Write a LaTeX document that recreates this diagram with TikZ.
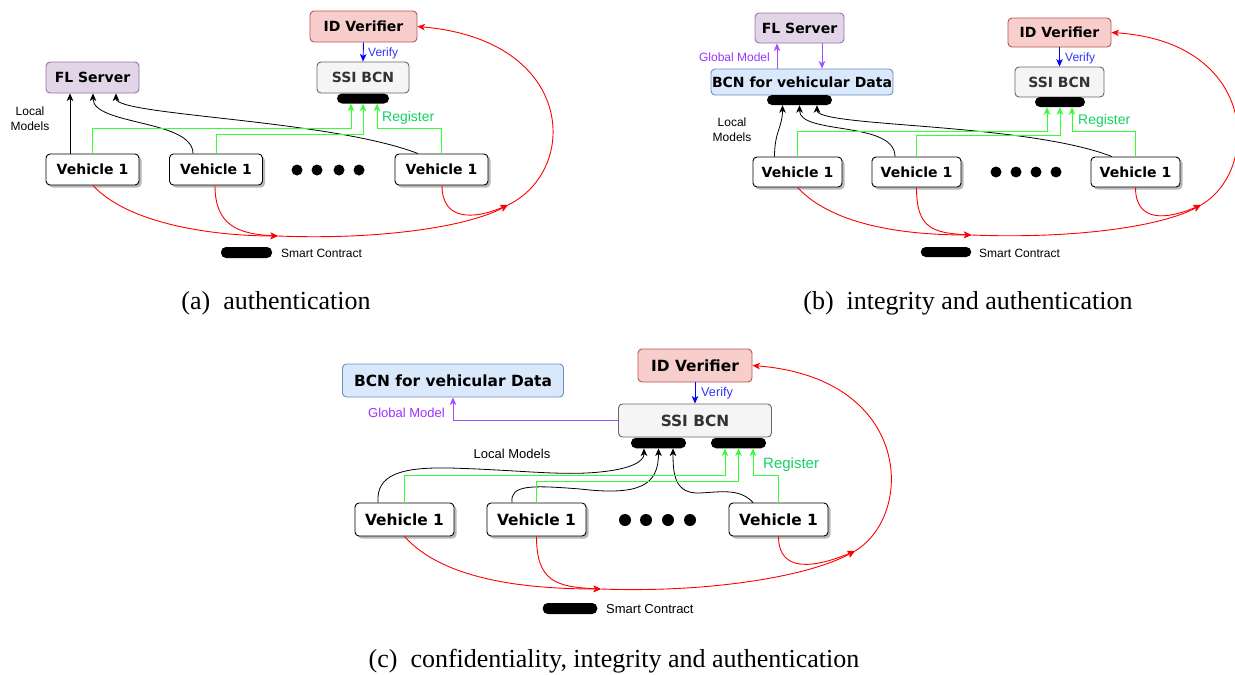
\documentclass[tikz,border=0pt]{standalone}
\usepackage{fontspec}
\setmainfont{Liberation Serif}
\newfontfamily\nodefont{DejaVu Sans}
\newfontfamily\lblfont{Liberation Sans}
\usetikzlibrary{arrows.meta,shadows}
\definecolor{idfill}{HTML}{F8CECC}
\definecolor{idline}{HTML}{B85450}
\definecolor{ssifill}{HTML}{F5F5F5}
\definecolor{ssiline}{HTML}{666666}
\definecolor{ssitext}{HTML}{333333}
\definecolor{flfill}{HTML}{E1D5E7}
\definecolor{flline}{HTML}{9673A6}
\definecolor{bcnfill}{HTML}{DAE8FC}
\definecolor{bcnline}{HTML}{6C8EBF}
\definecolor{grline}{HTML}{33FF33}
\definecolor{grtext}{HTML}{14D264}
\definecolor{puline}{HTML}{A050FF}
\definecolor{putext}{HTML}{9933FF}
\definecolor{bltext}{HTML}{3333FF}
\begin{document}
\begin{tikzpicture}[x=1pt,y=-1pt,
  box/.style={rounded corners=4pt, line width=0.9pt, inner sep=0pt, font={\nodefont\bfseries\fontsize{14}{16}\selectfont}},
  bigtxt/.style={font={\nodefont\bfseries\fontsize{15.4}{17}\selectfont}},
  idbox/.style={box, fill=idfill, draw=idline},
  ssibox/.style={box, fill=ssifill, draw=ssiline, text=ssitext},
  flbox/.style={box, fill=flfill, draw=flline},
  bcnbox/.style={box, fill=bcnfill, draw=bcnline},
  vehbox/.style={box, fill=white, draw=black, drop shadow={shadow xshift=2.5pt, shadow yshift=-2.5pt, fill=black, opacity=0.28}},
  scbar/.style={fill=black, rounded corners=5pt, inner sep=0pt},
  bigdot/.style={circle, fill=black, inner sep=0pt, minimum size=11pt},
  lbl/.style={inner sep=0pt, font={\lblfont\fontsize{12}{15}\selectfont}},
  captxt/.style={inner sep=0pt, font={\fontsize{26}{30}\selectfont}},
  tip/.style={-{Stealth[length=7.5pt,width=6.5pt,inset=2pt]}},
  blk/.style={draw=black, line width=0.8pt, tip},
  grn/.style={draw=grline, line width=1pt, tip},
  rd/.style={draw=red, line width=0.9pt, tip},
  blu/.style={draw=blue, line width=0.9pt, tip},
  pur/.style={draw=puline, line width=1pt, tip}
]
\useasboundingbox (0,0) rectangle (1235,675);

% ================= (a) =================
\node[idbox, minimum width=107, minimum height=31] (a-id) at (363.5,26.5) {ID Verifier};
\node[ssibox, minimum width=92, minimum height=31] (a-ssi) at (363,77.5) {SSI BCN};
\node[scbar, minimum width=52, minimum height=10] (a-bar) at (363,98.5) {};
\node[flbox, minimum width=93, minimum height=31] (a-fl) at (92.5,77.5) {FL Server};
\node[vehbox, minimum width=93, minimum height=31] (a-v1) at (92.5,169.5) {Vehicle 1};
\node[vehbox, minimum width=93, minimum height=31] (a-v2) at (216,169.5) {Vehicle 1};
\node[vehbox, minimum width=93, minimum height=31] (a-v3) at (441.5,169.5) {Vehicle 1};
\node[bigdot] (a-d1) at (297,170) {};
\node[bigdot] (a-d2) at (317,170) {};
\node[bigdot] (a-d3) at (339,170) {};
\node[bigdot] (a-d4) at (359,170) {};
\node[lbl, align=center] (a-lm) at (30,119) {Local\\Models};
\node[lbl, anchor=west, text=bltext] (a-ver) at (368,53) {Verify};
\node[lbl, anchor=west, text=grtext, font={\lblfont\fontsize{14}{16}\selectfont}] (a-reg) at (382,118) {Register};
\node[scbar, minimum width=51, minimum height=11] (a-sc) at (246.5,252.5) {};
\node[lbl, anchor=west] (a-sct) at (281,253) {Smart Contract};
\coordinate (a-m1) at (278,236);
\coordinate (a-m2) at (508,205);

\draw[blk] ([xshift=-22.5pt]a-v1.north) -- ([xshift=-22.5pt]a-fl.south);
\draw[blk] ([xshift=-23pt]a-v2.north) .. controls +(0,-34) and +(0,32) .. ([xshift=0.5pt]a-fl.south);
\draw[blk] ([xshift=-23.5pt]a-v3.north) .. controls +(-88,-34) and +(0,22) .. ([xshift=23.5pt]a-fl.south);
\draw[grn] (a-v1.north) -- ++(0,-25) -| ([xshift=-12pt]a-bar.south);
\draw[grn] (a-v2.north) -- ++(0,-19) -| (a-bar.south);
\draw[grn] (a-v3.north) -- ++(0,-25) -| ([xshift=14pt]a-bar.south);
\draw[blu] (a-id.south) -- (a-ssi.north);
\draw[rd] ([xshift=0.5pt]a-v1.south) .. controls +(37,40) and +(-60,0) .. (a-m1);
\draw[rd] ([xshift=-1pt]a-v2.south) .. controls +(0,40) and +(-40,-2) .. (a-m1);
\draw[rd] (a-m1) .. controls +(100,4) and +(-40,22) .. (a-m2);
\draw[rd] ([xshift=0.5pt]a-v3.south) .. controls +(0,35) and +(-35,15) .. (a-m2);
\draw[rd] (a-m2) .. controls +(72,-35) and +(158,13.5) .. (a-id.east);
\node[captxt] (a-cap) at (276,303) {(a)\hspace{0.5em}authentication};

% ================= (b) =================
\node[flbox, minimum width=89, minimum height=30] (b-fl) at (799.5,28) {FL Server};
\node[bcnbox, minimum width=182, minimum height=26] (b-bcn) at (802,82) {BCN for vehicular Data};
\node[scbar, minimum width=65, minimum height=10] (b-bar1) at (799.5,100) {};
\node[idbox, minimum width=103, minimum height=29] (b-id) at (1059.5,32.5) {ID Verifier};
\node[ssibox, minimum width=89, minimum height=30] (b-ssi) at (1059.5,82) {SSI BCN};
\node[scbar, minimum width=50, minimum height=10] (b-bar2) at (1060,102) {};
\node[vehbox, minimum width=89, minimum height=30] (b-v1) at (797.5,172) {Vehicle 1};
\node[vehbox, minimum width=89, minimum height=30] (b-v2) at (916.5,172) {Vehicle 1};
\node[vehbox, minimum width=89, minimum height=30] (b-v3) at (1135.5,172) {Vehicle 1};
\node[bigdot] (b-d1) at (996,172) {};
\node[bigdot] (b-d2) at (1016,172) {};
\node[bigdot] (b-d3) at (1036,172) {};
\node[bigdot] (b-d4) at (1056,172) {};
\node[lbl, align=center] (b-lm) at (732,130) {Local\\Models};
\node[lbl, anchor=east, text=putext] (b-gm) at (770,57) {Global Model};
\node[lbl, anchor=west, text=bltext] (b-ver) at (1065,58) {Verify};
\node[lbl, anchor=west, text=grtext, font={\lblfont\fontsize{14}{16}\selectfont}] (b-reg) at (1078,121) {Register};
\node[scbar, minimum width=50.5, minimum height=10] (b-sc) at (946,252) {};
\node[lbl, anchor=west] (b-sct) at (979,253) {Smart Contract};
\coordinate (b-m1) at (971.5,235);
\coordinate (b-m2) at (1201,205);

\draw[pur] ([xshift=-25pt]b-bcn.north) -- ([xshift=-22.5pt]b-fl.south);
\draw[pur] ([xshift=22.5pt]b-fl.south) -- ([xshift=20pt]b-bcn.north);
\draw[blk] ([xshift=-23pt]b-v1.north) .. controls +(0,-25) and +(0,22) .. ([xshift=-17pt]b-bar1.south);
\draw[blk] ([xshift=-21.5pt]b-v2.north) .. controls +(0,-36) and +(0,30) .. (b-bar1.south);
\draw[blk] ([xshift=-23.5pt]b-v3.north) .. controls +(-88,-34) and +(0,22) .. ([xshift=17.5pt]b-bar1.south);
\draw[grn] (b-v1.north) -- ++(0,-25) -| ([xshift=-13pt]b-bar2.south);
\draw[grn] (b-v2.north) -- ++(0,-21) -| (b-bar2.south);
\draw[grn] (b-v3.north) -- ++(0,-25) -| ([xshift=12pt]b-bar2.south);
\draw[blu] (b-id.south) -- (b-ssi.north);
\draw[rd] (b-v1.south) .. controls +(37,40) and +(-60,0) .. (b-m1);
\draw[rd] (b-v2.south) .. controls +(0,40) and +(-40,-2) .. (b-m1);
\draw[rd] (b-m1) .. controls +(100,4) and +(-40,22) .. (b-m2);
\draw[rd] (b-v3.south) .. controls +(0,35) and +(-35,15) .. (b-m2);
\draw[rd] (b-m2) .. controls +(60,-35) and +(146,9.5) .. (b-id.east);
\node[captxt] (b-cap) at (968,303) {(b)\hspace{0.5em}integrity and authentication};

% ================= (c) =================
\node[bcnbox, bigtxt, minimum width=221, minimum height=33] (c-bcn) at (453,380.5) {BCN for vehicular Data};
\node[idbox, bigtxt, minimum width=114, minimum height=33] (c-id) at (695,365.5) {ID Verifier};
\node[ssibox, bigtxt, minimum width=153, minimum height=33] (c-ssi) at (695,420.5) {SSI BCN};
\node[scbar, minimum width=55, minimum height=10.5] (c-bar1) at (658.5,443) {};
\node[scbar, minimum width=55, minimum height=10.5] (c-bar2) at (738.5,443) {};
\node[vehbox, bigtxt, minimum width=99, minimum height=33] (c-v1) at (404.5,519.5) {Vehicle 1};
\node[vehbox, bigtxt, minimum width=99, minimum height=33] (c-v2) at (536.5,519.5) {Vehicle 1};
\node[vehbox, bigtxt, minimum width=99, minimum height=33] (c-v3) at (778.5,519.5) {Vehicle 1};
\node[bigdot, minimum size=12pt] (c-d1) at (625,520) {};
\node[bigdot, minimum size=12pt] (c-d2) at (646,520) {};
\node[bigdot, minimum size=12pt] (c-d3) at (668,520) {};
\node[bigdot, minimum size=12pt] (c-d4) at (690,520) {};
\node[lbl, font={\lblfont\fontsize{13}{15}\selectfont}] (c-lm) at (512,454) {Local Models};
\node[lbl, anchor=east, text=putext, font={\lblfont\fontsize{13}{15}\selectfont}] (c-gm) at (445,413) {Global Model};
\node[lbl, anchor=west, text=bltext, font={\lblfont\fontsize{12.7}{15}\selectfont}] (c-ver) at (701,393) {Verify};
\node[lbl, anchor=west, text=grtext, font={\lblfont\fontsize{15}{17}\selectfont}] (c-reg) at (763,465) {Register};
\node[scbar, minimum width=54.5, minimum height=11] (c-sc) at (570,608.5) {};
\node[lbl, anchor=west, font={\lblfont\fontsize{13}{15}\selectfont}] (c-sct) at (606,609) {Smart Contract};
\coordinate (c-m1) at (601,589);
\coordinate (c-m2) at (855,551);

\draw[pur] (c-ssi.west) -| (c-bcn.south);
\draw[blu] (c-id.south) -- (c-ssi.north);
\draw[blk] ([xshift=-26.5pt]c-v1.north) .. controls (376,475) and (400,467) .. (450,468)
   .. controls (520,470) and (560,476) .. (600,472)
   .. controls (630,469) and (644,462) .. ([xshift=-14.5pt]c-bar1.south);
\draw[blk] ([xshift=-24.5pt]c-v2.north) .. controls (510,485) and (530,485) .. (580,489)
   .. controls (640,496) and (658.5,485) .. (c-bar1.south);
\draw[blk] ([xshift=-25.5pt]c-v3.north) .. controls (740,488) and (720,492) .. (700,493)
   .. controls (675,494) and (673,475) .. ([xshift=14.5pt]c-bar1.south);
\draw[grn] (c-v1.north) -- ++(0,-27) -| ([xshift=-13.5pt]c-bar2.south);
\draw[grn] (c-v2.north) -- ++(0,-21) -| (c-bar2.south);
\draw[grn] (c-v3.north) -- ++(0,-27) -| ([xshift=14.5pt]c-bar2.south);
\draw[rd] (c-v1.south) .. controls +(40,45) and +(-70,0) .. (c-m1);
\draw[rd] (c-v2.south) .. controls +(0,45) and +(-45,-2) .. (c-m1);
\draw[rd] (c-m1) .. controls +(110,4) and +(-45,25) .. (c-m2);
\draw[rd] (c-v3.south) .. controls +(0,38) and +(-38,16) .. (c-m2);
\draw[rd] (c-m2) .. controls +(60,-36) and +(160,12.5) .. (c-id.east);
\node[captxt] (c-cap) at (614,661) {(c)\hspace{0.5em}confidentiality, integrity and authentication};
\end{tikzpicture}
\end{document}
